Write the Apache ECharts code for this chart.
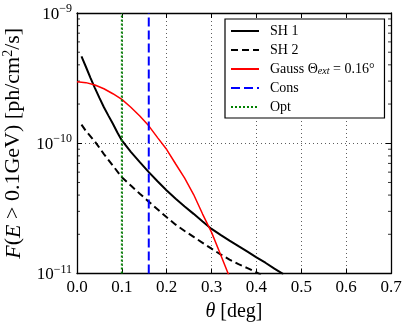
<!DOCTYPE html>
<html>
<head>
<meta charset="utf-8">
<script src="https://cdn.jsdelivr.net/npm/echarts@6/dist/echarts.min.js"></script>
<style>html,body{margin:0;padding:0;background:#fff}#c{width:407px;height:326px}</style>
</head>
<body>
<div id="c"></div>
<script>
var FONT = "'Liberation Serif','DejaVu Serif',serif";
var xTicks = [0, 0.1, 0.2, 0.3, 0.4, 0.5, 0.6, 0.7];
var yMin = 1e-11, yMax = 1e-9;
var yMinor = [2e-11,3e-11,4e-11,5e-11,6e-11,7e-11,8e-11,9e-11,2e-10,3e-10,4e-10,5e-10,6e-10,7e-10,8e-10,9e-10];

var sh1X = [0.01,0.02,0.03,0.04,0.05,0.06,0.07,0.08,0.09,0.10,0.12,0.14,0.16,0.18,0.20,0.22,0.24,0.26,0.28,0.30,0.32,0.34,0.36,0.38,0.40,0.42,0.44,0.46];
var sh1Y = [4.65e-10,3.85e-10,3.18e-10,2.65e-10,2.23e-10,1.89e-10,1.63e-10,1.41e-10,1.21e-10,1.05e-10,8.6e-11,7.16e-11,6.0e-11,5.09e-11,4.34e-11,3.75e-11,3.27e-11,2.87e-11,2.51e-11,2.2e-11,1.98e-11,1.79e-11,1.62e-11,1.47e-11,1.33e-11,1.21e-11,1.09e-11,9.9e-12];

var sh2X = [0.01,0.02,0.04,0.06,0.08,0.10,0.12,0.14,0.16,0.18,0.20,0.22,0.24,0.26,0.28,0.30,0.32,0.34,0.36,0.38,0.40,0.41];
var sh2Y = [1.39e-10,1.24e-10,1.03e-10,8.26e-11,6.73e-11,5.48e-11,4.73e-11,4.1e-11,3.56e-11,3.1e-11,2.7e-11,2.37e-11,2.12e-11,1.91e-11,1.72e-11,1.55e-11,1.40e-11,1.28e-11,1.18e-11,1.10e-11,1.02e-11,9.8e-12];

var gaussX = [0,0.02,0.04,0.06,0.08,0.10,0.12,0.14,0.16,0.18,0.20,0.22,0.24,0.26,0.28,0.30,0.32,0.34];
var gaussY = [2.97e-10,2.92e-10,2.8e-10,2.62e-10,2.4e-10,2.17e-10,1.89e-10,1.62e-10,1.36e-10,1.10e-10,8.95e-11,6.93e-11,5.39e-11,4.04e-11,2.86e-11,2.07e-11,1.40e-11,9.4e-12];

var consX = 0.16;
var optX = 0.10;

function zip(xs, ys){ return xs.map(function(x,i){ return [x, ys[i]]; }); }

var names = ['SH 1','SH 2','Gauss','Cons','Opt'];

var chart = echarts.init(document.getElementById('c'), null, {renderer:'canvas'});

function baseX(pos, labels){
  return {
    type:'value', min:0, max:0.7, interval:0.1, position:pos,
    axisLine:{show:true, onZero:false, lineStyle:{color:'#000', width:1.3}},
    axisTick:{show:true, inside:true, length:5, lineStyle:{color:'#000', width:1}},
    axisLabel:{show:labels, color:'#000', fontFamily:FONT, fontSize:17, margin:6,
      formatter:function(v){ return v.toFixed(1); }},
    splitLine:{show:labels, lineStyle:{color:'#333', width:0.8, type:[1,3]}}
  };
}
function baseY(pos, labels){
  return {
    type:'log', logBase:10, min:yMin, max:yMax, interval:1, position:pos,
    axisLine:{show:true, onZero:false, lineStyle:{color:'#000', width:1.3}},
    axisTick:{show:true, inside:true, length:5, lineStyle:{color:'#000', width:1}},
    axisLabel:{show:labels, color:'#000', fontFamily:FONT, margin:5,
      formatter:function(v){ var e = Math.round(Math.log10(v)); return '{b|10}{s|\u2212' + Math.abs(e) + '}'; },
      rich:{ b:{fontFamily:FONT, fontSize:17, color:'#000', lineHeight:20, verticalAlign:'bottom'},
             s:{fontFamily:FONT, fontSize:12, color:'#000', lineHeight:14, verticalAlign:'top'} }},
    splitLine:{show:labels, lineStyle:{color:'#333', width:0.8, type:[1,3]}}
  };
}

var xa0 = baseX('bottom', true);
xa0.name = '{i|\u03b8} [deg]';
xa0.nameLocation = 'middle';
xa0.nameGap = 25;
xa0.nameTextStyle = {fontFamily:FONT, fontSize:20, color:'#000',
  rich:{i:{fontFamily:FONT, fontSize:20, fontStyle:'italic', color:'#000'}}};
var ya0 = baseY('left', true);
ya0.name = '{i|F}({i|E} > 0.1GeV) [ph/cm{sp|2}/s]';
ya0.nameLocation = 'middle';
ya0.nameGap = 51;
ya0.nameTextStyle = {fontFamily:FONT, fontSize:22, color:'#000',
  rich:{i:{fontFamily:FONT, fontSize:22, fontStyle:'italic', color:'#000', lineHeight:24, verticalAlign:'bottom'},
        sp:{fontFamily:FONT, fontSize:14, color:'#000', lineHeight:16, verticalAlign:'top'}}};

var minorLeft = yMinor.map(function(v){ return [0, v]; });
var minorRight = yMinor.map(function(v){ return [0.7, v]; });

var option = {
  backgroundColor:'#fff',
  animation:false,
  grid:{left:77, right:16, top:13, bottom:52.5, containLabel:false, outerBoundsMode:'none'},
  xAxis:[xa0, baseX('top', false)],
  yAxis:[ya0, baseY('right', false)],
  legend:{
    data:names, orient:'vertical', left:225, top:19,
    padding:[5,10,4,5], itemWidth:28, itemHeight:14, itemGap:5,
    borderColor:'#000', borderWidth:1.2, backgroundColor:'#fff', borderRadius:0,
    itemStyle:{opacity:0, borderWidth:0},
    textStyle:{fontFamily:FONT, fontSize:14, color:'#000', padding:[0,0,0,6],
      rich:{ r:{fontFamily:FONT, fontSize:14, color:'#000', lineHeight:14, verticalAlign:'bottom'},
             t:{fontFamily:FONT, fontSize:14, color:'#000', lineHeight:14, verticalAlign:'bottom'},
             sub:{fontFamily:FONT, fontSize:10, fontStyle:'italic', color:'#000', lineHeight:9, verticalAlign:'bottom'} }},
    formatter:function(n){
      if (n === 'Gauss') return '{r|Gauss \u0398}{sub|ext}{t| = 0.16\u00b0}';
      return n;
    }
  },
  series:[
    {name:'SH 1', type:'line', data:zip(sh1X, sh1Y), symbol:'none', showSymbol:false, clip:true,
     lineStyle:{color:'#000', width:2}, itemStyle:{color:'#000'}},
    {name:'SH 2', type:'line', data:zip(sh2X, sh2Y), symbol:'none', showSymbol:false, clip:true,
     lineStyle:{color:'#000', width:2, type:[7,4]}, itemStyle:{color:'#000'}},
    {name:'Gauss', type:'line', data:zip(gaussX, gaussY), symbol:'none', showSymbol:false, clip:true,
     lineStyle:{color:'#ff0000', width:1.5}, itemStyle:{color:'#ff0000'}},
    {name:'Cons', type:'line', data:[[consX, yMin],[consX, yMax]], symbol:'none', showSymbol:false, clip:true,
     lineStyle:{color:'#0000ff', width:2, type:[9,4]}, itemStyle:{color:'#0000ff'}},
    {name:'Opt', type:'line', data:[[optX, yMin],[optX, yMax]], symbol:'none', showSymbol:false, clip:true,
     lineStyle:{color:'#008000', width:2, type:[2,2]}, itemStyle:{color:'#008000'}},
    {name:'minorL', type:'scatter', data:minorLeft, symbol:'rect', symbolSize:[3,1], symbolOffset:[1.5,0],
     itemStyle:{color:'#000'}, silent:true, clip:false},
    {name:'minorR', type:'scatter', data:minorRight, symbol:'rect', symbolSize:[3,1], symbolOffset:[-1.5,0],
     itemStyle:{color:'#000'}, silent:true, clip:false}
  ]
};
chart.setOption(option);
</script>
</body>
</html>
